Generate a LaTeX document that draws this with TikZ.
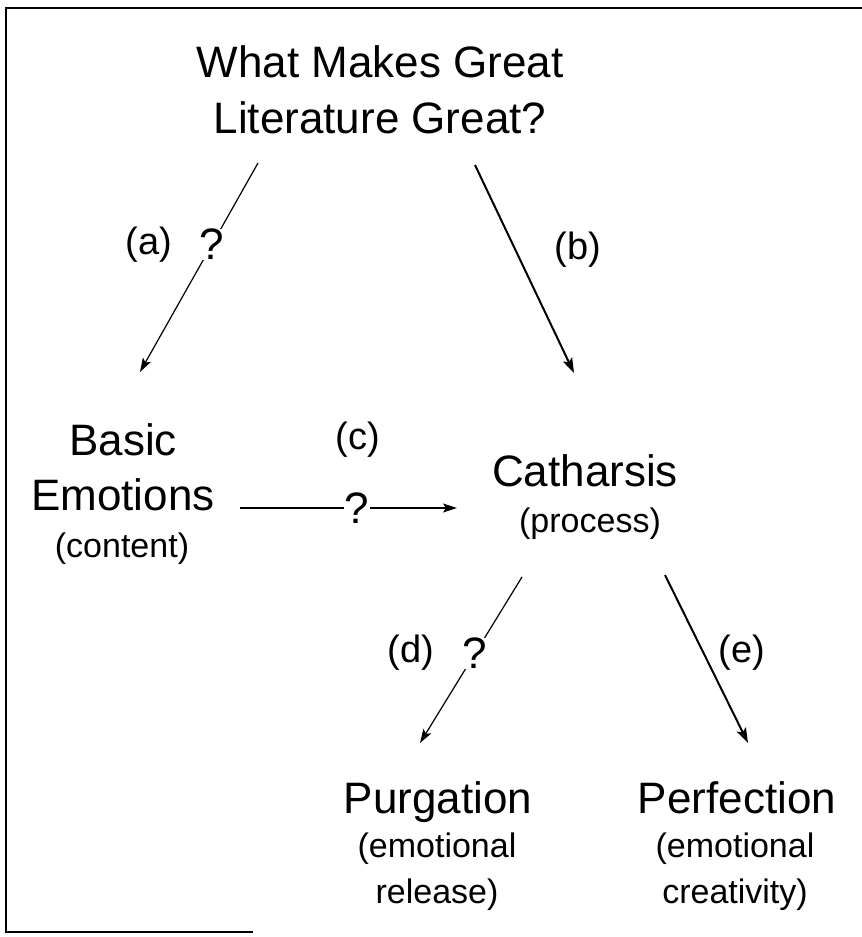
\documentclass[tikz,border=0pt]{standalone}
\usepackage{fontspec}
\setmainfont{Liberation Sans}
\usetikzlibrary{arrows.meta}
\tikzset{
  titletext/.style={font=\fontsize{44}{56}\selectfont, align=center, inner sep=0pt},
  bigtext/.style={font=\fontsize{44}{55}\selectfont, align=center, inner sep=0pt},
  smalltext/.style={font=\fontsize{34}{46}\selectfont, align=center, inner sep=0pt},
  labtext/.style={font=\fontsize{38}{45}\selectfont, inner sep=0pt},
  qmark/.style={font=\fontsize{44}{45}\selectfont, fill=white, inner sep=0.5pt},
  thinarrow/.style={line width=1.2pt, -{Stealth[length=14pt,width=9pt,inset=3pt]}},
  thickarrow/.style={line width=2pt, -{Stealth[length=15pt,width=10pt,inset=3pt]}},
  framed/.style={line width=1.5pt}
}
\begin{document}
\begin{tikzpicture}[x=1pt,y=-1pt]
\useasboundingbox (0,0) rectangle (862,937);
% partial frame
\coordinate (f1) at (862,8);
\coordinate (f2) at (6,8);
\coordinate (f3) at (6,932);
\coordinate (f4) at (253,932);
\draw[framed] (f1) -- (f2) -- (f3) -- (f4);

% texts
\node[titletext] (title) at (380,90) {What Makes Great\\Literature Great?};
\node[bigtext] (basic) at (123,467) {Basic\\Emotions};
\node[smalltext] (content) at (122,549) {(content)};
\node[bigtext] (cath) at (585,471) {Catharsis};
\node[smalltext] (process) at (590,524) {(process)};
\node[bigtext, anchor=base] (purg) at (438,813) {Purgation};
\node[smalltext] (purgsub) at (437,872) {(emotional\\release)};
\node[bigtext, anchor=base] (perf) at (737,813) {Perfection};
\node[smalltext] (perfsub) at (735,872) {(emotional\\creativity)};

% labels
\node[labtext] (la) at (149,245) {(a)};
\node[labtext] (lb) at (578,250) {(b)};
\node[labtext] (lc) at (358,440) {(c)};
\node[labtext] (ld) at (411,653) {(d)};
\node[labtext] (le) at (742,653) {(e)};

% arrow endpoints
\coordinate (a1) at (258,163);
\coordinate (a2) at (140,372);
\coordinate (b1) at (475,165);
\coordinate (b2) at (574,373);
\coordinate (c1) at (240,508);
\coordinate (c2) at (457,508);
\coordinate (d1) at (522,577);
\coordinate (d2) at (420,743);
\coordinate (e1) at (665,575);
\coordinate (e2) at (748,743);

\draw[thinarrow] (a1) -- node[qmark, pos=0.39] (qa) {?} (a2);
\draw[thickarrow] (b1) -- (b2);
\draw[thinarrow] (c1) -- node[qmark, pos=0.54] (qc) {?} (c2);
\draw[thinarrow] (d1) -- node[qmark, pos=0.46] (qd) {?} (d2);
\draw[thickarrow] (e1) -- (e2);
\end{tikzpicture}
\end{document}
